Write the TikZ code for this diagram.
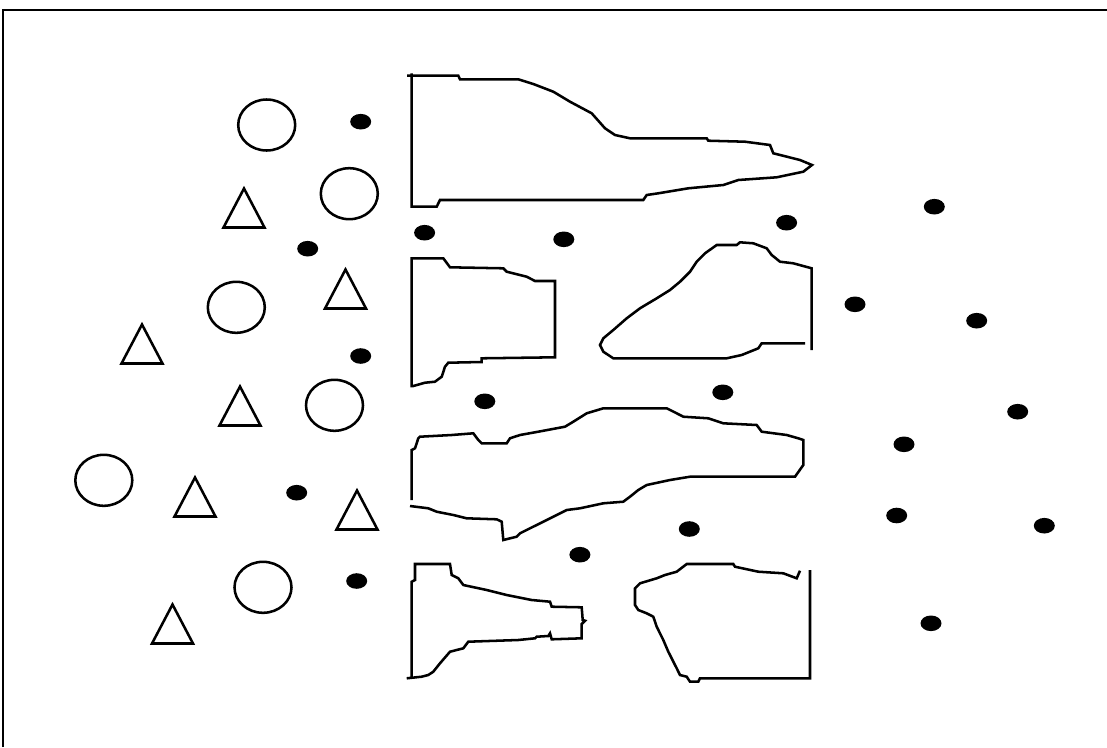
\documentclass[tikz,border=0pt]{standalone}
\begin{document}
\begin{tikzpicture}[x=0.75pt,y=-0.75pt,
  outline/.style={draw=black,line width=1.9pt,line join=miter},
  ring/.style={draw=black,line width=1.9pt},
  blob/.style={fill=black},
  frameline/.style={draw=black,line width=1.6pt},
  tri/.pic={\draw[outline] (0,-19.5) -- (-20.5,19.5) -- (20.5,19.5) -- cycle;}
  ]
\useasboundingbox (0,0) rectangle (1107,747);
\fill[white] (0,0) rectangle (1107,747);
% frame (top and left edges)
\draw[frameline] (3,747) -- (3,10) -- (1107,10);

% circles
\foreach \cx/\cy in {266.7/125, 349.3/193.7, 236.3/307.3, 334.5/405.3, 103.8/480.3, 263/587.3}
  \draw[ring] (\cx,\cy) ellipse [x radius=28.5, y radius=25.5];

% triangles
\foreach \cx/\cy in {244/208, 345.5/289, 142/344, 240/406, 195/497, 357/510, 172.5/624}
  \pic at (\cx,\cy) {tri};

% dots
\foreach \cx/\cy in {360.7/121.7, 307.7/248.7, 360.7/356, 296.7/492.7, 356.7/581,
  424.6/232.7, 563.8/239.3, 786.6/222.7, 934.3/206.7, 855/304.3, 976.7/320.7,
  484.8/401.3, 722.8/392.3, 1017.7/411.7, 904/444.3, 896.7/515.5, 1044.3/525.7,
  689.3/529, 579.9/554.7, 931/623.3}
  \fill[blob] (\cx,\cy) ellipse [x radius=10.5, y radius=7.8];

% shape A (top)
\draw[outline] (407,75.7) -- (458.3,75.7) -- (460,79.3) -- (518.3,79.3) -- (533.3,84) -- (553.3,91.7) -- (570,101.7) -- (591.7,113.3) -- (605,128.3) -- (615,135) -- (630,138.3) -- (706.7,138.3) -- (708.3,140.7) -- (745,141.7) -- (770,145) -- (773.3,153.3) -- (800,160) -- (812,165) -- (803.3,171.7) -- (776.7,177.3) -- (738.3,180) -- (723.3,185) -- (688.3,188.3) -- (658.3,193.3) -- (646.7,195) -- (643.3,200) -- (440,200) -- (436.7,206.7) -- (411.7,206.7) -- (411.7,73.3);

% shape B left
\draw[outline] (411.7,386) -- (411.7,258.3) -- (443.3,258.3) -- (450,267.3) -- (503.3,268.3) -- (506.7,271.7) -- (526.7,276.7) -- (535,281) -- (555,281) -- (555,357.3) -- (481.7,358.3) -- (481.7,362) -- (448.3,362.7) -- (445,366.7) -- (441.7,376.7) -- (435,381.7) -- (425,382.7) -- (413.3,386) -- cycle;

% shape B right
\draw[outline] (805,343.3) -- (761.7,343.3) -- (758.3,348.3) -- (741.7,355) -- (726.7,358.3) -- (613.3,358.3) -- (603.3,351.7) -- (600,345) -- (603.3,338.3) -- (613.3,330) -- (626.7,318.3) -- (640,308.3) -- (656.7,298.3) -- (670,290) -- (680,281.7) -- (690,271.7) -- (696.7,261.7) -- (705,253.3) -- (716.7,245) -- (736.7,245) -- (740,242.3) -- (753.3,243.3) -- (766.7,248.3) -- (771.7,255) -- (780,261.7) -- (793.3,263.3) -- (811.7,268.3) -- (811.7,350);

% shape C (long middle)
\draw[outline] (411.7,500) -- (411.7,450) -- (415,448.3) -- (418.3,438.3) -- (420,436.7) -- (451.7,435) -- (473.3,433.3) -- (478.3,440) -- (481.7,443.3) -- (506.7,443.3) -- (510,438.3) -- (520,435) -- (538.3,431.7) -- (565,426.7) -- (573.3,421.7) -- (586.7,413.3) -- (603.3,408.3) -- (666.7,408.3) -- (676.7,413.3) -- (683.3,416.7) -- (708.3,418.3) -- (723.3,423.3) -- (756.7,425) -- (761.7,431.7) -- (786.7,435) -- (798.3,438.3) -- (803.3,440) -- (803.3,465) -- (795,476.7) -- (690,476.7) -- (670,480) -- (646.7,485) -- (638.3,490) -- (630,496.7) -- (623.3,501.7) -- (603.3,503.3) -- (580,508.3) -- (566.7,510) -- (553.3,516.7) -- (520,533.3) -- (516.7,536.7) -- (503.3,540) -- (501.7,521.7) -- (496.7,519.3) -- (466.7,518.3) -- (453.3,515) -- (436.7,511.7) -- (428.3,508.3) -- (410,506);

% shape D left
\draw[outline] (411.7,678.3) -- (411.7,581.7) -- (415,580) -- (415,564) -- (450,564) -- (451.7,575) -- (458.3,578.3) -- (463.3,585) -- (486.7,590) -- (506.7,595) -- (531.7,600) -- (550,601.7) -- (551.7,606.7) -- (581.7,607.3) -- (582.7,620) -- (585,620.7) -- (581.7,624) -- (581.7,638.3) -- (551.7,639.3) -- (550,633.3) -- (548.3,636) -- (536.7,636.7) -- (535,638.3) -- (518.3,640) -- (468.3,641.7) -- (463.3,648.3) -- (450,651.7) -- (440,663.3) -- (433.3,671.7) -- (428.3,675) -- (421.7,676.7) -- (406.7,678.3);

% shape D right
\draw[outline] (800,570.7) -- (796.7,578.3) -- (783.3,573.3) -- (758.3,571.7) -- (735,566.7) -- (733.3,564) -- (686.7,564) -- (676.7,571.7) -- (665,575) -- (656.7,578.3) -- (640,583.3) -- (635,588.3) -- (635,605) -- (638.3,610) -- (646.7,613.3) -- (653.3,616.7) -- (656.7,626.7) -- (663.3,640) -- (668.3,651.7) -- (676.7,668.3) -- (680,675) -- (686.7,676.7) -- (690,681.7) -- (698.3,681.7) -- (700,678.3) -- (810,678.3) -- (810,570);
\end{tikzpicture}
\end{document}
